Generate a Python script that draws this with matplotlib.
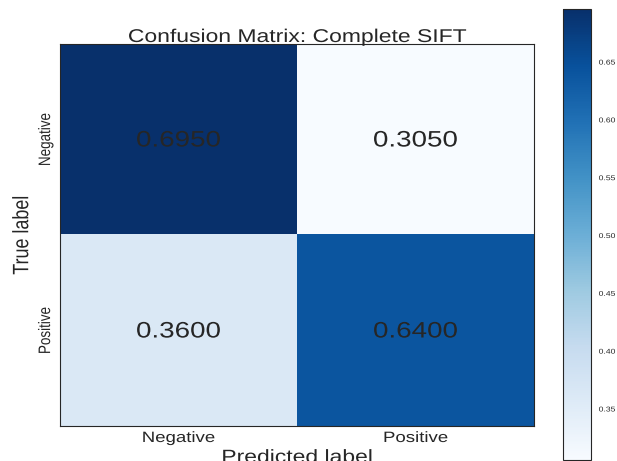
import matplotlib
matplotlib.use("Agg")
import matplotlib.pyplot as plt
import numpy as np
from matplotlib.patheffects import AbstractPathEffect
from matplotlib.transforms import Affine2D

classes = ["Negative", "Positive"]
values = [[0.6950, 0.3050],
          [0.3600, 0.6400]]
cbar_ticks = [0.35, 0.40, 0.45, 0.50, 0.55, 0.60, 0.65]

plt.rcParams['font.family'] = ['Liberation Sans', 'DejaVu Sans']
cm = np.array(values)
TXT = '#262626'
SQ = 0.806  # vertical squash of glyphs seen in the reference


class SquashY(AbstractPathEffect):
    """Compress text glyphs vertically (about baseline, or centre if rotated)."""
    def __init__(self, s):
        super().__init__((0.0, 0.0))
        self.s = s

    def draw_path(self, renderer, gc, tpath, affine, rgbFace=None):
        m = affine.get_matrix()
        if abs(m[0, 1]) > 1e-6 or abs(m[1, 0]) > 1e-6:
            ext = tpath.get_extents(affine)
            cy = 0.5 * (ext.y0 + ext.y1)
        else:
            cy = affine.transform([[0.0, 0.0]])[0, 1]
        t = affine + Affine2D().translate(0, -cy).scale(1, self.s).translate(0, cy)
        renderer.draw_path(gc, tpath, t, rgbFace)


fig = plt.figure(figsize=(6.17, 4.61), dpi=100)
ax = fig.add_axes([60 / 617, 35 / 461, 474 / 617, 382 / 461])
cax = fig.add_axes([563 / 617, 1 / 461, 28 / 617, 451 / 461])

im = ax.imshow(cm, cmap='Blues', aspect='auto', interpolation='nearest')
ax.set_title("Confusion Matrix: Complete SIFT", fontsize=16.5, color=TXT,
             pad=0, y=1 + 2 / 382, va='baseline')
ticks = np.arange(len(classes))
ax.set_xticks(ticks)
ax.set_xticklabels(classes, fontsize=13.4, color=TXT, va='baseline')
ax.set_yticks(ticks)
ax.set_yticklabels(classes, fontsize=12, rotation=90, va='center', color=TXT)
ax.tick_params(length=0)
ax.tick_params(axis='x', pad=16 / 1.389)
ax.tick_params(axis='y', pad=5)
for i in range(cm.shape[0]):
    for j in range(cm.shape[1]):
        ax.text(j, i, f"{cm[i, j]:.4f}", ha='center', va='center',
                fontsize=20, color=TXT)
ax.set_xlabel("Predicted label", fontsize=16.5, color=TXT, va='baseline')
ax.xaxis.set_label_coords(0.5, -36.5 / 382)
ax.set_ylabel("True label", fontsize=16, color=TXT, labelpad=3.5)
for s in ax.spines.values():
    s.set_color(TXT)
    s.set_linewidth(0.8)

cb = fig.colorbar(im, cax=cax, ticks=cbar_ticks)
cb.ax.tick_params(labelsize=6.2, length=0, pad=5.5, labelcolor=TXT)
cb.outline.set_edgecolor(TXT)
cb.outline.set_linewidth(0.8)

texts = [ax.title, ax.xaxis.label, ax.yaxis.label]
texts += list(ax.texts)
texts += ax.get_xticklabels() + ax.get_yticklabels() + cb.ax.get_yticklabels()
for t in texts:
    t.set_path_effects([SquashY(SQ)])

fig.savefig("out.png", dpi=100)
